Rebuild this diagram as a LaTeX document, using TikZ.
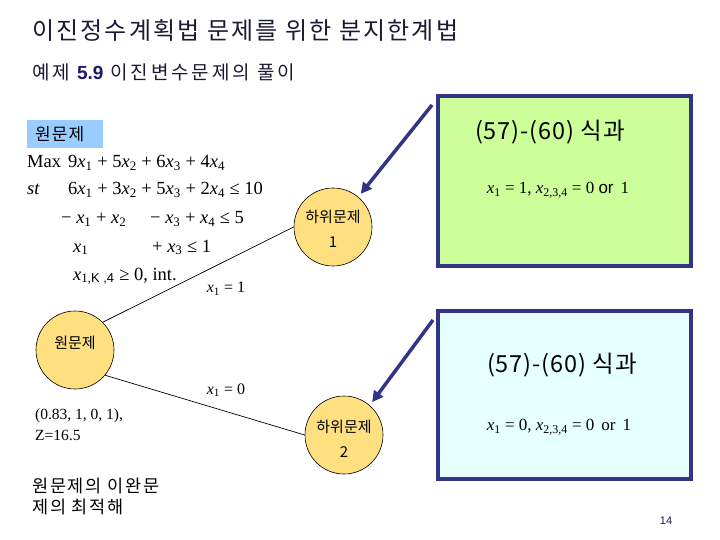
\documentclass[tikz,border=0pt]{standalone}
\usepackage{fontspec}
\setmainfont{Liberation Serif}
\newfontfamily\kr{Noto Sans CJK KR}
\newfontfamily\ars{Liberation Sans}
\usetikzlibrary{arrows.meta}
\definecolor{navy}{HTML}{333388}
\definecolor{gfill}{HTML}{CCFF99}
\definecolor{cfill}{HTML}{E6FFFF}
\definecolor{yfill}{HTML}{FFE080}
\definecolor{lblue}{HTML}{99CCFF}
\definecolor{ttl}{HTML}{1A1A33}
\definecolor{numc}{HTML}{1A1A66}
\newcommand\xs[1]{\textit{x}\textsubscript{#1}}
\tikzset{
  txt/.style={inner sep=0, anchor=base west},
  mth/.style={txt, font=\fontsize{18.5}{20}\selectfont},
  krt/.style={inner sep=0, font=\kr\fontsize{#1}{#1}\selectfont},
  krs/.style 2 args={inner sep=0, font=\kr\fontsize{#1}{#1}\selectfont\addfontfeature{LetterSpace=#2}},
  bubble/.style={circle, draw=black, line width=0.6, fill=yfill, minimum size=78, inner sep=0},
  panel/.style={draw=navy, line width=3.5, minimum width=253, inner sep=0},
  link/.style={line width=0.7},
  ptr/.style={navy, line width=3.5, -{Triangle[length=11pt,width=11pt]}, shorten >=4pt}
}
\begin{document}
\begin{tikzpicture}[x=1pt,y=-1pt]
\useasboundingbox (0,0) rectangle (720,540);
% titles
\node[krs={24}{9}, anchor=west, text=ttl] (title) at (32,30) {이진정수계획법 문제를 위한 분지한계법};
\node[krs={19}{15}, anchor=west, text=ttl] (sub) at (32,72) {예제 {\ars\bfseries\color{numc}5.9} 이진변수문제의 풀이};
% label box
\node[fill=lblue, minimum width=76, minimum height=28, inner sep=0, anchor=north west] (lab) at (27,120) {};
\node[krs={17}{6}, anchor=west] (labt) at (35,134) {원문제};
% model
\node[mth] (m1a) at (27,168) {Max};
\node[mth] (m1b) at (68,168) {9\xs1 + 5\xs2 + 6\xs3 + 4\xs4};
\node[mth] (m2a) at (27,195) {\textit{st}};
\node[mth] (m2b) at (68,195) {6\xs1 + 3\xs2 + 5\xs3 + 2\xs4 ≤ 10};
\node[mth] (m3a) at (61,224) {− \xs1 + \xs2};
\node[mth] (m3b) at (150,224) {− \xs3 + \xs4 ≤ 5};
\node[mth] (m4a) at (73,252) {\xs1};
\node[mth] (m4b) at (152,252) {+ \xs3 ≤ 1};
\node[mth] (m5) at (73,280) {\textit{x}\textsubscript{1,{\ars K ,4}} ≥ 0, int.};
% tree
\node[bubble] (root) at (75,350) {};
\node[krt=15] (roott) at (75,343) {원문제};
\node[bubble] (s1) at (333,227) {};
\node[krt=15] (s1t) at (333,217) {하위문제};
\node[krt=15] (s1n) at (333,242) {1};
\node[bubble] (s2) at (344,435) {};
\node[krt=15] (s2t) at (344,427) {하위문제};
\node[krt=15] (s2n) at (344,452) {2};
\draw[link] (root.45) -- (s1.west);
\draw[link] (root.-40) -- (s2.west);
\node[inner sep=0, font=\fontsize{16}{16}\selectfont] (e1) at (226,289) {\xs1 = 1};
\node[inner sep=0, font=\fontsize{16}{16}\selectfont] (e0) at (226,390) {\xs1 = 0};
% root info
\node[txt, font=\fontsize{15.5}{16}\selectfont] (sol) at (35,419) {(0.83, 1, 0, 1),};
\node[txt, font=\fontsize{15.5}{16}\selectfont] (zv) at (35,440) {Z=16.5};
\node[krs={17.5}{10}, anchor=west] (r1) at (32,486) {원문제의 이완문};
\node[krs={17.5}{10}, anchor=west] (r2) at (32,507) {제의 최적해};
% panels
\node[panel, fill=gfill, minimum height=170] (g) at (564.5,181) {};
\node[krs={23.5}{4}] (gt) at (550,132) {(57)-(60) 식과};
\node[inner sep=0, font=\fontsize{17}{17}\selectfont] (gm) at (558,190) {\xs1 = 1, \xs{2,3,4} = 0 {\ars or}\, 1};
\node[panel, fill=cfill, minimum height=168] (c) at (564.5,395) {};
\node[krs={23.5}{4}] (ct) at (562,365) {(57)-(60) 식과};
\node[inner sep=0, font=\fontsize{17}{17}\selectfont] (cm) at (559,427) {\xs1 = 0, \xs{2,3,4} = 0\, or\, 1};
% pointers
\coordinate (gp) at (432,105);
\coordinate (cp) at (433,320);
\draw[ptr] (gp) -- (s1.50);
\draw[ptr] (cp) -- (s2.49);
% page number
\node[inner sep=0, font=\ars\fontsize{11}{11}\selectfont, text=ttl] (pg) at (666,521) {14};
\end{tikzpicture}
\end{document}
